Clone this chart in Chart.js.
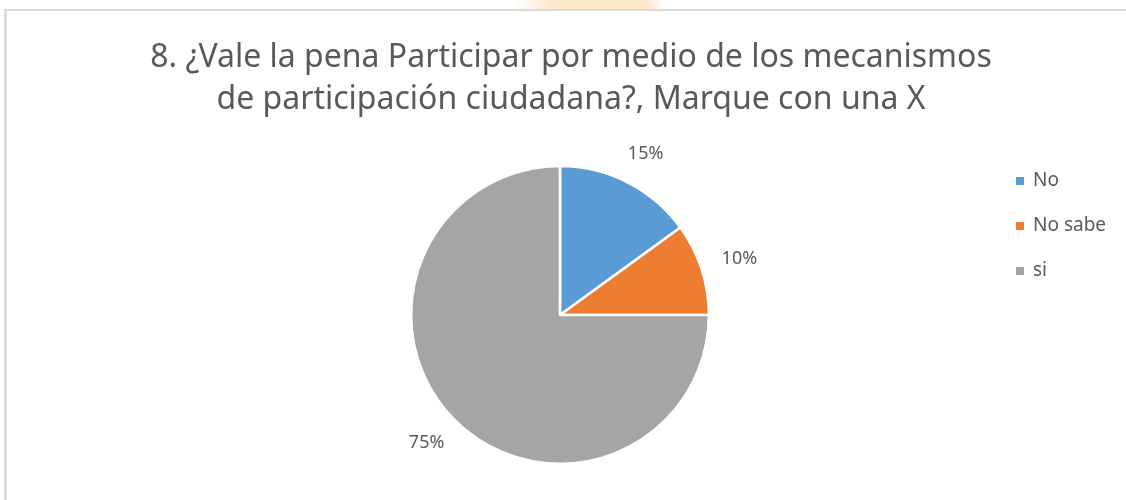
<!DOCTYPE html>
<html>
<head>
<meta charset="utf-8">
<script src="https://cdn.jsdelivr.net/npm/chart.js@4/dist/chart.umd.min.js"></script>
<style>
  html, body { margin: 0; padding: 0; background: #ffffff; overflow: hidden; }
  #wrap { position: relative; width: 1126px; height: 500px; }
  #frame { position: absolute; left: 4px; top: 9px; width: 1140px; height: 510px;
           border-top: 2px solid #d9d9d9; border-left: 3px solid #dcdcdc; }
  #blob { position: absolute; left: 515px; top: 0; width: 150px; height: 9px;
          background: linear-gradient(90deg, rgba(253,233,207,0) 0%, #fde8cc 25%, #fde8cc 88%, rgba(253,233,207,0) 100%); }
  canvas { position: absolute; left: 0; top: 0; }
</style>
</head>
<body>
<div id="wrap">
  <div id="blob"></div>
  <div id="frame"></div>
  <canvas id="c" width="1126" height="500"></canvas>
</div>
<script>
const titleLines = ["8. ¿Vale la pena Participar por medio de los mecanismos", "de participación ciudadana?, Marque con una X"];
const categories = ["No", "No sabe", "si"];
const shares = [15, 10, 75];
const sliceColors = ["#5B9BD5", "#ED7D31", "#A5A5A5"];
const textColor = "#595959";
const fontFamily = "'Noto Sans', 'Open Sans', sans-serif";

const shiftPie = {
  id: 'shiftPie',
  afterLayout(chart) {
    // keep pie slightly left of the title centre as in the reference
    chart.chartArea.right -= 22;
    chart.chartArea.width = chart.chartArea.right - chart.chartArea.left;
  }
};

const outsideLabels = {
  id: 'outsideLabels',
  afterDatasetsDraw(chart) {
    const ctx = chart.ctx;
    const meta = chart.getDatasetMeta(0);
    ctx.save();
    ctx.font = "18px " + fontFamily;
    ctx.fillStyle = textColor;
    ctx.textAlign = 'center';
    ctx.textBaseline = 'middle';
    meta.data.forEach((arc, i) => {
      const p = arc.getProps(['x', 'y', 'startAngle', 'endAngle', 'outerRadius'], true);
      const mid = (p.startAngle + p.endAngle) / 2;
      const r = p.outerRadius + 22;
      const ax = p.x + Math.cos(mid) * r;
      const ay = p.y + Math.sin(mid) * r;
      const txt = shares[i] + '%';
      const w = ctx.measureText(txt).width;
      const cx = ax + Math.cos(mid) * w / 2;
      const cy = ay + Math.sin(mid) * 10;
      ctx.fillText(txt, cx, cy);
    });
    ctx.restore();
  }
};

const sideLegend = {
  id: 'sideLegend',
  afterDraw(chart) {
    const ctx = chart.ctx;
    ctx.save();
    ctx.font = "19px " + fontFamily;
    ctx.textBaseline = 'middle';
    ctx.textAlign = 'left';
    const x0 = 1016, y0 = 181, step = 45;
    categories.forEach((c, i) => {
      const y = y0 + i * step;
      ctx.fillStyle = sliceColors[i];
      ctx.fillRect(x0, y - 4, 8, 8);
      ctx.fillStyle = textColor;
      ctx.fillText(c, x0 + 17, y);
    });
    ctx.restore();
  }
};

new Chart(document.getElementById('c'), {
  type: 'pie',
  data: {
    labels: categories,
    datasets: [{
      data: shares,
      backgroundColor: sliceColors,
      borderColor: '#ffffff',
      borderWidth: 2.5
    }]
  },
  options: {
    responsive: false,
    animation: false,
    layout: { padding: { left: 16, right: 0, top: 37, bottom: 35 } },
    plugins: {
      legend: { display: false },
      tooltip: { enabled: false },
      title: {
        display: true,
        text: titleLines,
        color: textColor,
        font: { family: fontFamily, size: 32, weight: 'normal', lineHeight: 1.31 },
        padding: { top: 0, bottom: 44 }
      }
    }
  },
  plugins: [shiftPie, outsideLabels, sideLegend]
});
</script>
</body>
</html>
